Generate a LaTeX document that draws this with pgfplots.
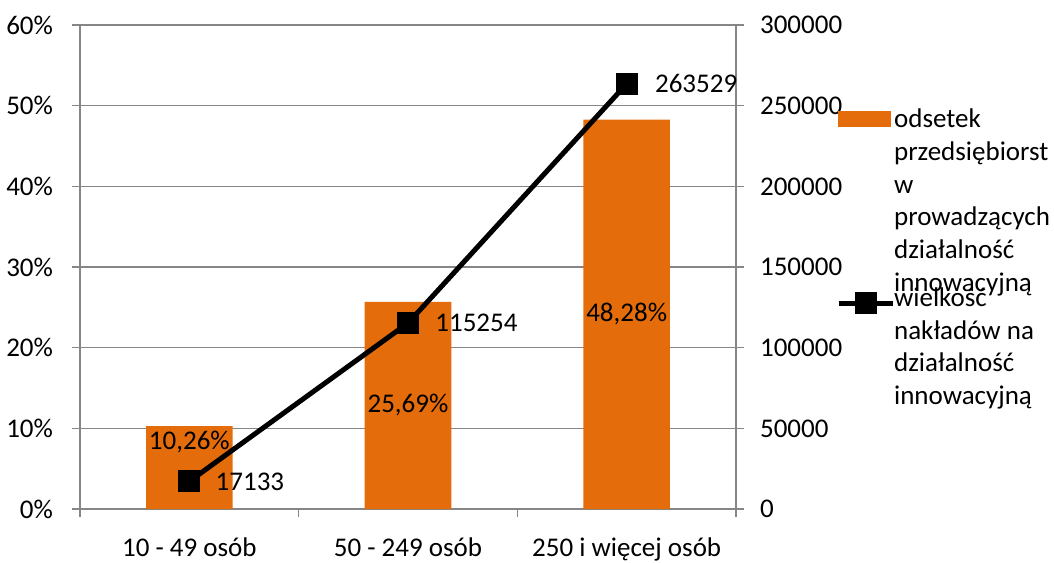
\documentclass[border=0pt]{standalone}
\usepackage{fontspec}
\setmainfont{Carlito}
\usepackage{pgfplots}
\pgfplotsset{compat=1.18}

\definecolor{barorange}{HTML}{E46C0A}
\definecolor{axisgray}{HTML}{868686}

\pgfplotsset{
  base/.style={
    scale only axis,
    width=328pt, height=242pt,
    at={(0,0)}, anchor=south west,
    xmin=-0.5, xmax=2.5,
    tick align=outside,
    major tick length=4pt, minor tick length=4pt,
    axis line style={axisgray, line width=0.6pt},
    every tick/.style={axisgray, line width=0.6pt},
    font=\fontsize{13.5}{16.4}\selectfont,
    /pgf/number format/assume math mode=true,
  },
  linelegend/.style={
    legend image code/.code={\draw[##1, mark repeat=2, mark phase=2] plot coordinates {(0pt,1.5pt) (13.5pt,1.5pt) (27pt,1.5pt)};}
  },
  barlegend/.style={
    legend image code/.code={\fill[barorange] (0pt,0.5pt) rectangle (26pt,8pt);}
  },
}

\begin{document}
\begin{tikzpicture}
% share of enterprises (bars, left axis)
\begin{axis}[base,
  ymin=0, ymax=60,
  axis x line*=bottom, axis y line*=left,
  ytick={0,10,...,60},
  yticklabel={\pgfmathprintnumber{\tick}\%},
  yticklabel style={xshift=-6pt},
  ymajorgrids, grid style={axisgray, line width=0.6pt},
  xtick={-0.5,0.5,1.5,2.5},
  xticklabels={},
  extra x ticks={0,1,2},
  extra x tick labels={10 - 49 osób, 50 - 249 osób, 250 i więcej osób},
  extra x tick style={major tick length=0pt, tick style={draw=none},
    tick label style={anchor=base, yshift=-23.5pt}},
  ybar, bar width=43.3pt,
]
\addplot[fill=barorange, draw=none] coordinates {(0,10.26) (1,25.69) (2,48.28)};
\node[inner sep=0pt] at (axis cs:0,8.3) {10,26\%};
\node[inner sep=0pt] at (axis cs:1,12.845) {25,69\%};
\node[inner sep=0pt] at (axis cs:2,24.14) {48,28\%};
\end{axis}

% innovation expenditure (line, right axis)
\begin{axis}[base,
  ymin=0, ymax=300000,
  axis x line=none, axis y line*=right,
  ytick={0,50000,...,300000},
  scaled y ticks=false,
  yticklabel style={xshift=4.5pt, /pgf/number format/.cd, fixed, precision=0, set thousands separator={}},
  legend style={draw=none, fill=none, inner sep=0pt,
    at={(axis description cs:1.152,0.836)}, anchor=north west,
    font=\fontsize{13.5}{16.4}\selectfont,
    cells={anchor=base west}, row sep=74.5pt,
    /tikz/column sep=-2.5pt},
]
\addlegendimage{barlegend}
\addlegendentry{\parbox[t]{90pt}{odsetek\\przedsiębiorst\\w\\prowadzących\\działalność\\innowacyjną}}
\addplot[black, line width=2.5pt, mark=square*, mark size=4.3pt, linelegend]
  coordinates {(0,17133) (1,115254) (2,263529)};
\addlegendentry{\parbox[t]{90pt}{wielkość\\nakładów na\\działalność\\innowacyjną}}
\node[anchor=west, inner sep=0pt, xshift=13pt] at (axis cs:0,17133) {17133};
\node[anchor=west, inner sep=0pt, xshift=13.5pt] at (axis cs:1,115254) {115254};
\node[anchor=west, inner sep=0pt, xshift=14pt] at (axis cs:2,263529) {263529};
\end{axis}

\pgfresetboundingbox
\path[use as bounding box] (-40pt,-26.5pt) rectangle (487pt,254.5pt);
\end{tikzpicture}
\end{document}
